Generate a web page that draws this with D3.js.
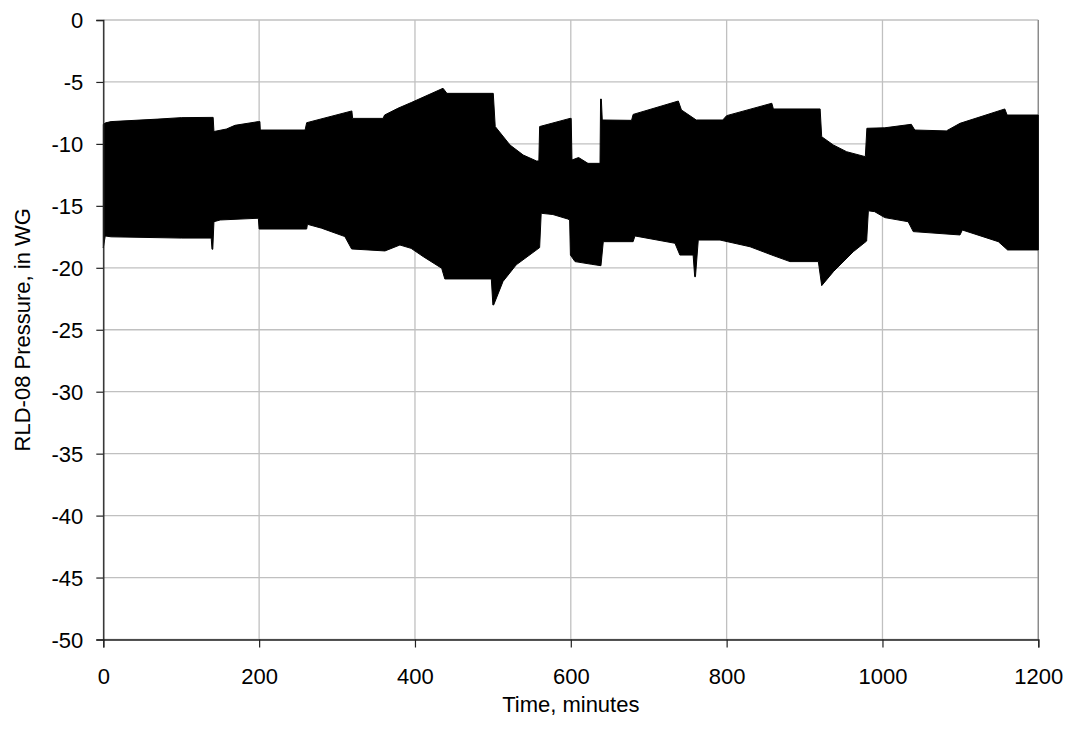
<!DOCTYPE html>
<html>
<head>
<meta charset="utf-8">
<script src="https://cdn.jsdelivr.net/npm/d3@7"></script>
<style>
  html, body { margin: 0; padding: 0; background: #fff; }
  svg { display: block; }
  text { font-family: "Liberation Sans", Arial, sans-serif; fill: #000; }
</style>
</head>
<body>
<svg id="chart" width="1071" height="735"></svg>
<script>
// ---- Data ----
// Upper envelope of the oscillating pressure trace
const upperTime  = [0, 3, 10, 70, 100, 141, 142, 158, 169, 199, 201, 201.5, 259, 261, 319, 320, 359, 361, 378, 396, 436, 441, 500.5, 503, 522, 539, 556, 559, 560, 599, 600.5, 601.5, 610, 622, 637.5, 638.2, 639.2, 640.4, 678, 680, 738, 742, 761, 795, 800, 858, 860, 920, 922, 937, 954, 978, 980, 1003, 1037, 1041.5, 1082, 1099.5, 1157, 1160, 1200];
const upperValue = [-8.42, -8.3, -8.2, -8.0, -7.88, -7.86, -9.0, -8.8, -8.5, -8.2, -8.2, -8.88, -8.88, -8.29, -7.34, -7.94, -7.94, -7.67, -7.13, -6.64, -5.51, -5.92, -5.92, -8.6, -10.09, -10.9, -11.38, -11.38, -8.6, -7.94, -7.94, -11.3, -11.1, -11.57, -11.57, -6.38, -6.38, -8.07, -8.1, -7.62, -6.54, -7.26, -8.07, -8.07, -7.72, -6.72, -7.18, -7.18, -9.42, -10.09, -10.63, -11.03, -8.74, -8.7, -8.42, -8.88, -8.95, -8.34, -7.18, -7.67, -7.67];
// Lower envelope of the oscillating pressure trace
const lowerTime  = [0, 2.5, 10, 100, 138.5, 139.5, 140.5, 142, 150, 199, 200, 261, 262, 280, 310, 318.7, 361.5, 380.7, 395, 410.7, 434.3, 438.3, 498, 500, 501, 513, 530, 560, 562, 577, 596, 598.5, 599.5, 605.4, 627, 638.7, 641.7, 680, 682.3, 733.7, 740, 757, 759, 760, 763.6, 791.5, 830, 858, 881.3, 917.7, 922, 937, 962.6, 979.7, 981.9, 990, 1003, 1033, 1039.5, 1099.5, 1102.5, 1148.7, 1160.6, 1200];
const lowerValue = [-18.4, -17.43, -17.5, -17.6, -17.6, -18.5, -18.5, -16.28, -16.14, -16.0, -16.87, -16.87, -16.49, -16.8, -17.48, -18.48, -18.64, -18.16, -18.43, -19.1, -20.04, -20.9, -20.9, -23.0, -23.0, -21.1, -19.76, -18.37, -15.6, -15.7, -16.06, -16.14, -18.97, -19.5, -19.72, -19.83, -17.89, -17.89, -17.43, -18.02, -18.97, -18.97, -20.72, -20.72, -17.76, -17.76, -18.3, -18.97, -19.5, -19.5, -21.44, -20.31, -18.7, -17.84, -15.4, -15.47, -15.95, -16.28, -17.08, -17.35, -16.95, -17.89, -18.56, -18.56];

const xTicks = [0, 200, 400, 600, 800, 1000, 1200];
const yTicks = [0, -5, -10, -15, -20, -25, -30, -35, -40, -45, -50];
const xTitle = "Time, minutes";
const yTitle = "RLD-08 Pressure, in WG";

// ---- Layout ----
const svg = d3.select("#chart");
const pLeft = 103.3, pRight = 1038.3, pTop = 20, pBottom = 639.5;
const fs = 22;

const x = d3.scaleLinear().domain([0, 1200]).range([pLeft, pRight]);
const y = d3.scaleLinear().domain([-50, 0]).range([pBottom, pTop]);

// gridlines
svg.append("g").selectAll("line").data(yTicks).join("line")
  .attr("x1", pLeft).attr("x2", pRight)
  .attr("y1", d => y(d)).attr("y2", d => y(d))
  .attr("stroke", "#c0c0c0").attr("stroke-width", 1.3);
svg.append("g").selectAll("line").data(xTicks).join("line")
  .attr("x1", d => x(d)).attr("x2", d => x(d))
  .attr("y1", pTop).attr("y2", pBottom)
  .attr("stroke", "#c0c0c0").attr("stroke-width", 1.3);
// right border
svg.append("line").attr("x1", pRight).attr("x2", pRight).attr("y1", pTop).attr("y2", pBottom)
  .attr("stroke", "#888").attr("stroke-width", 1.3);

// data band
const upper = upperTime.map((t, i) => [t, upperValue[i]]);
const lower = lowerTime.map((t, i) => [t, lowerValue[i]]).reverse();
const line = d3.line().x(d => x(d[0])).y(d => y(d[1]));
svg.append("path")
  .attr("d", line(upper.concat(lower)) + "Z")
  .attr("fill", "#000").attr("stroke", "#000").attr("stroke-width", 1);

// axes
const fmt = d => String(d);
const yAxis = d3.axisLeft(y).tickValues(yTicks).tickSize(7).tickPadding(13).tickFormat(fmt);
const gy = svg.append("g").attr("transform", `translate(${pLeft},0)`).call(yAxis);
const xAxis = d3.axisBottom(x).tickValues(xTicks).tickSize(8).tickPadding(10).tickFormat(fmt);
const gx = svg.append("g").attr("transform", `translate(0,${pBottom})`).call(xAxis);

[gx, gy].forEach(g => {
  g.select(".domain").attr("stroke", "#222").attr("stroke-width", 1.3);
  g.selectAll(".tick line").attr("stroke", "#222").attr("stroke-width", 1.2);
  g.selectAll(".tick text").attr("font-size", fs).attr("fill", "#000")
    .attr("font-family", "'Liberation Sans', Arial, sans-serif");
});
gx.selectAll(".tick text").attr("dy", 0).attr("y", 44);
gy.selectAll(".tick text").attr("dy", "0.36em");

// titles
svg.append("text").attr("x", (pLeft + pRight) / 2).attr("y", 712)
  .attr("text-anchor", "middle").attr("font-size", fs).text(xTitle);
svg.append("text").attr("transform", `translate(30,${(pTop + pBottom) / 2}) rotate(-90)`)
  .attr("text-anchor", "middle").attr("font-size", fs).text(yTitle);
</script>
</body>
</html>
